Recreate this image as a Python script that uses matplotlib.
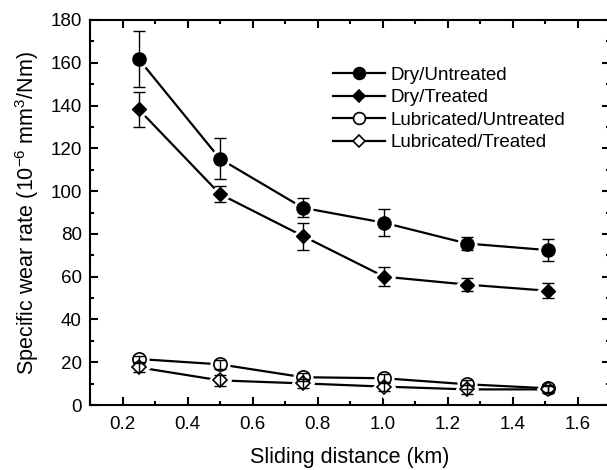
import matplotlib
matplotlib.use("Agg")
from matplotlib import pyplot as plt
from matplotlib.lines import Line2D
from matplotlib.ticker import MultipleLocator

plt.rcParams['font.family'] = ['Liberation Sans', 'DejaVu Sans']

distance = [0.25, 0.5, 0.755, 1.005, 1.26, 1.51]

dry_untreated = [161.7, 115.1, 92.2, 85.2, 75.5, 72.4]
dry_untreated_err = [13.0, 9.5, 4.5, 6.3, 3.2, 5.0]
dry_treated = [138.2, 98.6, 79.0, 60.0, 56.3, 53.4]
dry_treated_err = [8.0, 3.7, 6.3, 4.5, 3.0, 3.5]
lub_untreated = [21.5, 19.0, 13.0, 12.5, 9.7, 7.8]
lub_untreated_err = [1.5, 2.0, 2.0, 2.0, 2.0, 1.5]
lub_treated = [17.6, 11.5, 10.1, 8.6, 7.3, 7.3]
lub_treated_err = [2.0, 2.5, 2.0, 2.0, 2.0, 1.5]

series = [
    ("Dry/Untreated", dry_untreated, dry_untreated_err, 'o', 'k'),
    ("Dry/Treated", dry_treated, dry_treated_err, 'D', 'k'),
    ("Lubricated/Untreated", lub_untreated, lub_untreated_err, 'o', 'w'),
    ("Lubricated/Treated", lub_treated, lub_treated_err, 'D', 'w'),
]

fig = plt.figure(figsize=(6.07, 4.70), dpi=100)
ax = fig.add_axes([90 / 607, 65 / 470, 520 / 607, 385 / 470])

handles = []
for name, vals, errs, mk, face in series:
    ms = 9.5 if mk == 'o' else 7.5
    ax.plot(distance, vals, color='k', lw=1.6, zorder=2)
    # white halo so the line stops short of each marker
    ax.plot(distance, vals, ls='none', marker=mk, ms=ms + 4, mfc='w', mec='w', zorder=3)
    if face == 'k':
        ax.errorbar(distance, vals, yerr=errs, fmt='none', ecolor='k', elinewidth=1.0,
                    capsize=4, capthick=1.0, zorder=4)
        ax.plot(distance, vals, ls='none', marker=mk, ms=ms, mfc='k', mec='k', zorder=5)
    else:
        ax.plot(distance, vals, ls='none', marker=mk, ms=ms, mfc='w', mec='k', mew=1.2, zorder=4)
        ax.errorbar(distance, vals, yerr=errs, fmt='none', ecolor='k', elinewidth=1.0,
                    capsize=4, capthick=1.0, zorder=5)
    handles.append(Line2D([], [], color='k', lw=1.6, marker=mk, ms=ms - 1,
                          mfc=face, mec='k', mew=1.2, label=name))

ax.set_xlim(0.1, 1.7)
ax.set_ylim(0, 180)
ax.xaxis.set_major_locator(MultipleLocator(0.2))
ax.xaxis.set_minor_locator(MultipleLocator(0.1))
ax.yaxis.set_major_locator(MultipleLocator(20))
ax.yaxis.set_minor_locator(MultipleLocator(10))
ax.tick_params(which='both', direction='in', top=True, right=True, width=1.5)
ax.tick_params(which='major', length=6, labelsize=13.5)
ax.tick_params(axis='x', which='major', pad=8)
ax.tick_params(axis='y', which='major', pad=6)
ax.tick_params(which='minor', length=3)
for sp in ax.spines.values():
    sp.set_linewidth(1.5)

ax.set_xlabel("Sliding distance (km)", fontsize=15.5, labelpad=10)
ax.set_ylabel(r"Specific wear rate (10$^{\mathregular{-6}}$ mm$^{\mathregular{3}}$/Nm)",
              fontsize=15.5, labelpad=7)

ax.legend(handles=handles, loc='upper left', bbox_to_anchor=(316 / 607, 1 - 50 / 470),
          bbox_transform=fig.transFigure, frameon=False, fontsize=13.5,
          handlelength=2.8, labelspacing=0.28, handletextpad=0.3)

fig.savefig("out.png", dpi=100)
